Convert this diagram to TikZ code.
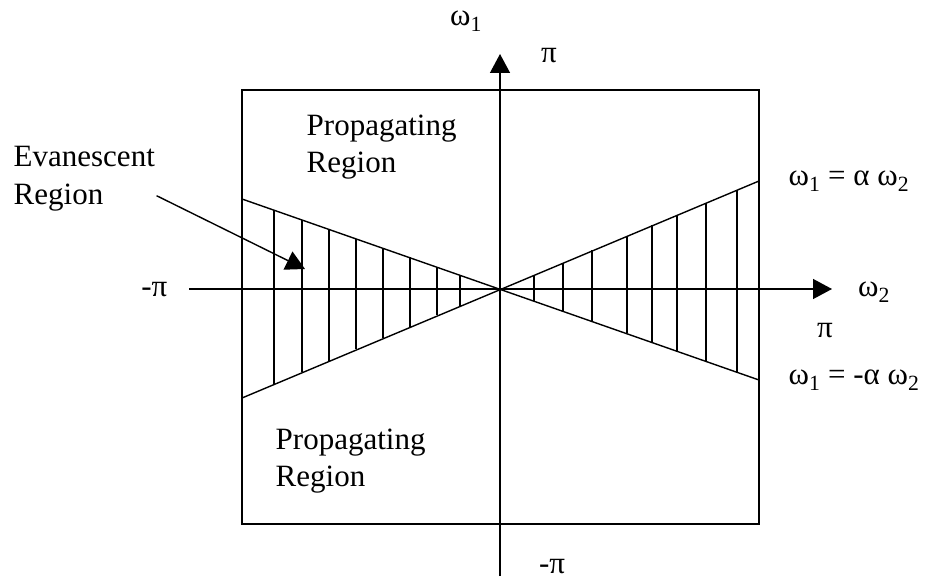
\documentclass[tikz,border=0pt]{standalone}
\usepackage{fontspec}
\setmainfont{Liberation Serif}
\usetikzlibrary{arrows.meta}
\begin{document}
\begin{tikzpicture}[x=1pt,y=-1pt,line width=1.4pt,
  lbl/.style={font=\fontsize{31}{37}\selectfont,inner sep=0pt},
  tri/.style={-{Triangle[width=20pt,length=19pt]}}]
  \useasboundingbox (0,0) rectangle (925,583);
  % frame
  \draw (242,90) rectangle (759,524);
  % the two boundary lines
  \coordinate (ul) at (242,199); \coordinate (lr) at (759,380);
  \coordinate (ll) at (242,398); \coordinate (ur) at (759,181);
  \draw (ul) -- (lr);
  \draw (ll) -- (ur);
  % hatching of the evanescent part
  \foreach \x in {274,302,329,356,383,410,437,460,
                  534,563,592,627,652,677,706,737}{
    \draw (\x,{289+(\x-500)*0.3501}) -- (\x,{289-(\x-500)*0.4197});
  }
  % axes
  \coordinate (xl) at (189,289); \coordinate (xr) at (832,289);
  \coordinate (yb) at (500,576); \coordinate (yt) at (500,54);
  \draw[tri] (xl) -- (xr);
  \draw[tri] (yb) -- (yt);
  % labels
  \node[lbl] (w1) at (466,21) {ω\textsubscript{1}};
  \node[lbl] (pitop) at (549,56) {π};
  \node[lbl,anchor=east] (pileft) at (168,290) {-π};
  \node[lbl] (w2) at (874,292) {ω\textsubscript{2}};
  \node[lbl] (piright) at (825,331) {π};
  \node[lbl,anchor=south] (pibot) at (552,574) {-π};
  \node[lbl,anchor=west] (eqa) at (788,181) {ω\textsubscript{1} = α ω\textsubscript{2}};
  \node[lbl,anchor=west] (eqb) at (788,380) {ω\textsubscript{1} = -α ω\textsubscript{2}};
  \node[lbl,align=left,anchor=north west] (proptop) at (306,114) {Propagating\\Region};
  \node[lbl,align=left,anchor=north west] (propbot) at (275,428) {Propagating\\Region};
  \node[lbl,align=left,anchor=north west] (ev) at (13,146) {Evanescent\\Region};
  % pointer to the hatched part
  \coordinate (evt) at (305,269);
  \draw[tri] ([xshift=1pt,yshift=-17pt]ev.east) -- (evt);
\end{tikzpicture}
\end{document}
